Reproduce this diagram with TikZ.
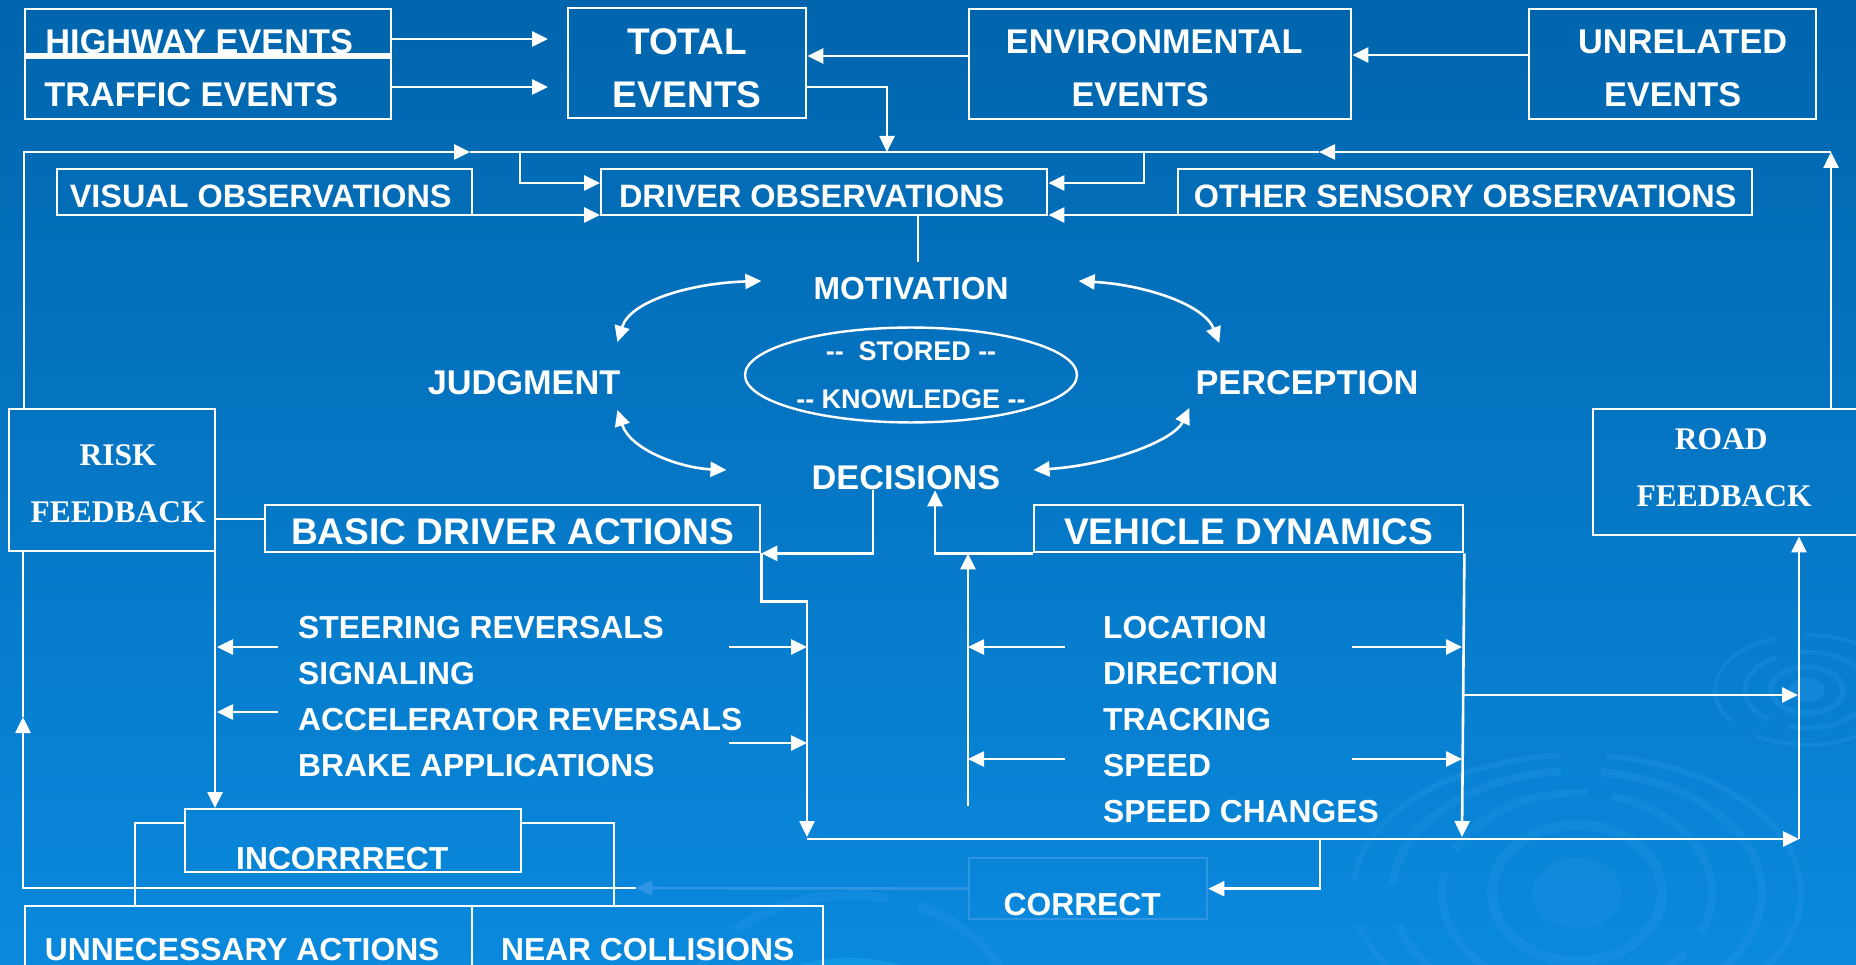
\documentclass[tikz,border=0pt]{standalone}
\usepackage{fontspec}
\setmainfont{Liberation Sans}
\newfontfamily\serifbf{Liberation Serif}
\usetikzlibrary{arrows.meta,shapes.geometric}

\definecolor{bgtop}{HTML}{0065AD}
\definecolor{bgmid}{HTML}{006EBB}
\definecolor{bgbot}{HTML}{0A89DD}
\definecolor{ripc}{HTML}{2C9BEA}
\definecolor{cyanc}{HTML}{22B2F2}
\definecolor{ghostc}{HTML}{2F95E2}

\newcommand\fnA{\fontsize{31.8}{46}\selectfont\bfseries}
\newcommand\fnT{\fontsize{32.4}{46}\selectfont\bfseries}
\newcommand\fnB{\fontsize{34.3}{53}\selectfont\bfseries}
\newcommand\fnC{\fontsize{37.1}{53}\selectfont\bfseries}
\newcommand\fnD{\fontsize{27}{48}\selectfont\bfseries}
\newcommand\fnS{\serifbf\fontsize{31.5}{57}\selectfont\bfseries}
\newcommand\dd{\mbox{-}\mbox{-}}
\newcommand\dn[1]{\rule{0pt}{#1}}
\newcommand\up[1]{\rule[-#1]{0pt}{#1}}

\tikzset{
  box/.style={draw=white, line width=2.4pt, inner sep=0pt, text=white, anchor=north west},
  lbl/.style={inner sep=0pt, text=white},
  lnk/.style={draw=white, line width=2.6pt},
  arr/.style={lnk, -{Triangle[length=16pt,width=15pt]}},
  dbl/.style={lnk, {Triangle[length=16pt,width=15pt]}-{Triangle[length=16pt,width=15pt]}},
  ripple/.style={draw=ripc, opacity=.25},
}

\begin{document}
\begin{tikzpicture}[x=1pt,y=-1pt]
	\useasboundingbox (0,0) rectangle (1856,965);
	\shade [top color=bgtop, middle color=bgmid, bottom color=bgbot] (0,0) rectangle (1856,965);

	\fill [cyanc, opacity=.35] (850,1020) ellipse [x radius=110pt, y radius=62pt];
	\draw [ripple, line width=9pt, dash pattern=on 160pt off 30pt] (850,1020) ellipse [x radius=165pt, y radius=125pt];
	\fill [ripc, opacity=.2] (1577,893) ellipse [x radius=45pt, y radius=35pt];
	\draw [ripple, line width=10pt] (1577,893) ellipse [x radius=85pt, y radius=68pt];
	\draw [ripple, line width=8pt, dash pattern=on 150pt off 25pt] (1577,893) ellipse [x radius=135pt, y radius=100pt];
	\draw [ripple, line width=8pt, dash pattern=on 220pt off 40pt] (1577,893) ellipse [x radius=185pt, y radius=122pt];
	\draw [ripple, line width=6pt, dash pattern=on 260pt off 45pt] (1577,893) ellipse [x radius=224pt, y radius=138pt];
	\fill [ripc, opacity=.3] (1807,690) ellipse [x radius=18pt, y radius=12pt];
	\draw [ripple, line width=6pt] (1807,690) ellipse [x radius=36pt, y radius=23pt];
	\draw [ripple, line width=5pt, dash pattern=on 90pt off 20pt] (1807,690) ellipse [x radius=62pt, y radius=38pt];
	\draw [ripple, line width=4pt, dash pattern=on 120pt off 30pt] (1807,690) ellipse [x radius=92pt, y radius=55pt];

	\node [box, minimum width=366pt, text height=44.3pt, text depth=1.2pt, font=\fnB] (hwy) at (24,8) {HIGHWAY EVENTS\kern18pt};
	\node [box, minimum width=366pt, text height=48.8pt, text depth=12.7pt, font=\fnB] (trf) at (24,56.5) {TRAFFIC EVENTS\kern34pt};
	\node [box, minimum width=238pt, minimum height=110pt, align=center, font=\fnC] (tot) at (567,7) {\dn{35pt}TOTAL\\EVENTS};
	\node [box, minimum width=382pt, minimum height=110pt, align=center, font=\fnB] (env) at (968,8) {\dn{32pt}ENVIRONMENTAL\kern12pt\\EVENTS\kern40pt};
	\node [box, minimum width=287pt, minimum height=110pt, align=center, font=\fnB] (unr) at (1528,8) {\dn{32pt}\hspace{20pt}UNRELATED\\EVENTS};
	\node [box, minimum width=415pt, text height=38.4pt, text depth=7.6pt, font=\fnT] (vis) at (56,168) {VISUAL OBSERVATIONS\kern8pt};
	\node [box, minimum width=446pt, text height=38.4pt, text depth=7.6pt, font=\fnT] (drv) at (600,168) {DRIVER OBSERVATIONS\kern25pt};
	\node [box, minimum width=574pt, text height=38.4pt, text depth=7.6pt, font=\fnT] (oth) at (1177,168) {OTHER SENSORY OBSERVATIONS};
	\node [box, minimum width=206pt, minimum height=142pt, align=center, font=\fnS] (risk) at (8,408) {\dn{28pt}\hspace{12pt}RISK\\\hspace{12pt}FEEDBACK};
	\node [box, minimum width=270pt, minimum height=126pt, align=center, font=\fnS] (road) at (1592,408) {ROAD\kern14pt\\FEEDBACK\kern8pt\up{9pt}};
	\node [box, minimum width=495pt, text height=39.3pt, text depth=7.7pt, font=\fnC] (bas) at (264,504) {BASIC DRIVER ACTIONS};
	\node [box, minimum width=429pt, text height=39.3pt, text depth=7.7pt, font=\fnC] (veh) at (1033,504) {VEHICLE DYNAMICS};
	\node [box, minimum width=336pt, text height=60.4pt, text depth=2.6pt, font=\fnA] (inc) at (184,808) {INCORRRECT\kern22pt};
	\node [box, minimum width=447pt, text height=54.4pt, text depth=15.6pt, font=\fnA] (unn) at (24,905) {UNNECESSARY ACTIONS\kern13pt};
	\node [box, minimum width=351pt, text height=54.4pt, text depth=15.6pt, font=\fnA] (near) at (471,905) {NEAR COLLISIONS};
	\node [box, draw=ghostc, minimum width=238pt, text height=57.4pt, text depth=3.6pt, font=\fnA] (cor) at (968,857) {CORRECT\kern12pt};

	\node [lbl, font=\fnA] (mot) at (911,289) {MOTIVATION};
	\node [lbl, font=\fnB] (dec) at (906,478) {DECISIONS};
	\node [lbl, font=\fnB] (jud) at (524,383) {JUDGMENT};
	\node [lbl, font=\fnB] (per) at (1307,383) {PERCEPTION};
	\node [draw=white, ellipse, line width=2.4pt, minimum width=332pt, minimum height=94pt, inner sep=0pt, text=white, align=center, font=\fnD] (know) at (911,375) {\dd\ \ STORED \dd\\\dd{} KNOWLEDGE \dd};
	\node [lbl, anchor=north west, align=left, font=\fnA] (dact) at (298,615.6) {STEERING REVERSALS\\SIGNALING\\ACCELERATOR REVERSALS\\BRAKE APPLICATIONS};
	\node [lbl, anchor=north west, align=left, font=\fnA] (vdyn) at (1103,615.6) {LOCATION\\DIRECTION\\TRACKING\\SPEED\\SPEED CHANGES};

	\coordinate (bl) at (807,839);
	\coordinate (br) at (1799,839);

	\draw [arr, shorten >=19pt] (hwy.east |- 0,39) -- (tot.west |- 0,39);
	\draw [arr, shorten >=19pt] (trf.east |- 0,87) -- (tot.west |- 0,87);
	\draw [arr] (env.west |- 0,56) -- (tot.east |- 0,56);
	\draw [arr] (unr.west |- 0,55) -- (env.east |- 0,55);
	\draw [arr] (tot.east |- 0,87) -| (887,152);
	\draw [arr] (risk.north -| 24,0) |- (470,152);
	\draw [lnk] (470,152) -- (1319,152);
	\draw [arr] (road.north -| 1831,0) -- (1831,152);
	\draw [arr] (1831,152) -- (1319,152);
	\draw [arr] (520,152) |- (drv.west |- 0,183);
	\draw [arr] (1144,152) |- (drv.east |- 0,183);
	\draw [arr] (vis.east |- 0,215) -- (drv.west |- 0,215);
	\draw [arr, shorten <=-28pt] (oth.west |- 0,215) -- (drv.east |- 0,215);
	\draw [lnk] (drv.south -| 918,0) -- (918,262);

	\draw [dbl] ([shift={(-3,-41)}]jud.east) .. controls +(13,-42) and +(-68,2) .. ([shift={(-52,-8)}]mot.west);
	\draw [dbl] ([shift={(-3,27)}]jud.east) .. controls +(13,40) and +(-46,-2) .. ([shift={(-85,-8)}]dec.west);
	\draw [dbl] ([shift={(70,-8)}]mot.east) .. controls +(68,4) and +(-15,-38) .. ([shift={(24,-40)}]per.west);
	\draw [dbl] ([shift={(33,-8)}]dec.east) .. controls +(77,-5) and +(-15,32) .. ([shift={(-6,25)}]per.west);

	\draw [arr] (dec.south -| 873,0) |- (bas.south east);
	\draw [arr] (veh.south west) -| (dec.south -| 935,0);
	\draw [lnk] (risk.east |- 0,519) -- (bas.west |- 0,519);

	\draw [arr] (risk.south -| 215,0) -- (inc.north -| 215,0);
	\draw [arr] (278,647) -- (217,647);
	\draw [arr] (278,712) -- (217,712);
	\draw [arr] (729,647) -- (807,647);
	\draw [arr] (729,743) -- (807,743);
	\draw [arr] (bas.south east) -- ++(0,48) -| (807,837);
	\draw [arr] (bl) -- (br);
	\draw [arr] (br) -- (road.south -| br);

	\draw [arr] (968,806) -- (veh.south west -| 968,0);
	\draw [arr] (1065,647) -- (968,647);
	\draw [arr] (1065,759) -- (968,759);
	\draw [arr] (1352,647) -- (1462,647);
	\draw [arr] (1352,759) -- (1462,759);
	\draw [arr] (veh.south east) -- (1462,837);
	\draw [arr] (1462,695) -- (1798,695);
	\draw [arr] (1320,839) |- (cor.east);

	\draw [draw=ghostc, line width=2.6pt, -{Triangle[length=16pt,width=15pt]}] (cor.west) -- (636,888);
	\draw [arr] (636,888) -| (23,717);
	\draw [lnk] (23,717) -- (risk.south -| 23,0);
	\draw [lnk] (inc.west |- 0,823) -| (unn.north -| 135,0);
	\draw [lnk] (inc.east |- 0,823) -| (near.north -| 614,0);
\end{tikzpicture}
\end{document}
